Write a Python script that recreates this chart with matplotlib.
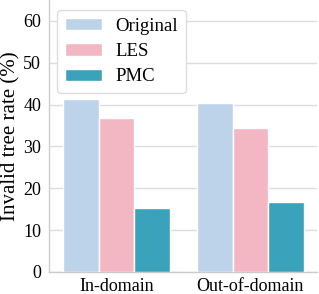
import numpy as np
import matplotlib.pyplot as plt

# data
groups = ["In-domain", "Out-of-domain"]
methods = ["Original", "LES", "PMC"]
original = [41.4, 40.5]
les = [36.8, 34.3]
pmc = [15.4, 16.8]

colors = ["#BCD3E9", "#F3B6C3", "#3BA2BB"]

plt.rcParams["font.family"] = ["Liberation Serif", "DejaVu Serif"]

fig, ax = plt.subplots(figsize=(3.19, 2.94), dpi=100)

x = np.arange(len(groups))
w = 0.8 / 3
for i, (vals, lab) in enumerate(zip([original, les, pmc], methods)):
    ax.bar(x + (i - 1) * w, vals, width=w, color=colors[i], label=lab,
           edgecolor="white", linewidth=1.0, zorder=3)

ax.set_xlim(-0.5, 1.5)
ax.set_ylim(0, 65)
ax.set_yticks([0, 10, 20, 30, 40, 50, 60])
ax.set_xticks(x)
ax.set_xticklabels(groups)
ax.set_ylabel("Invalid tree rate (%)", fontsize=15, labelpad=2)
ax.tick_params(labelsize=13, length=0)
ax.tick_params(axis="y", pad=6)
ax.tick_params(axis="x", pad=4)
ax.grid(axis="y", color="#DDDDDD", linewidth=1.0, zorder=0)
ax.set_axisbelow(True)

for s in ["top", "right"]:
    ax.spines[s].set_visible(False)
for s in ["left", "bottom"]:
    ax.spines[s].set_color("#CCCCCC")
    ax.spines[s].set_linewidth(1.0)

leg = ax.legend(loc="upper left", fontsize=13.5, frameon=True, fancybox=True,
                borderpad=0.4, handlelength=1.95, handleheight=0.65,
                handletextpad=0.75, labelspacing=0.45, borderaxespad=0,
                bbox_to_anchor=(0.03, 0.963))
leg.get_frame().set_edgecolor("#DDDDDD")
leg.get_frame().set_alpha(1.0)

fig.subplots_adjust(left=0.155, right=0.995, top=1.0, bottom=0.075)
fig.savefig("out.png", dpi=100)
